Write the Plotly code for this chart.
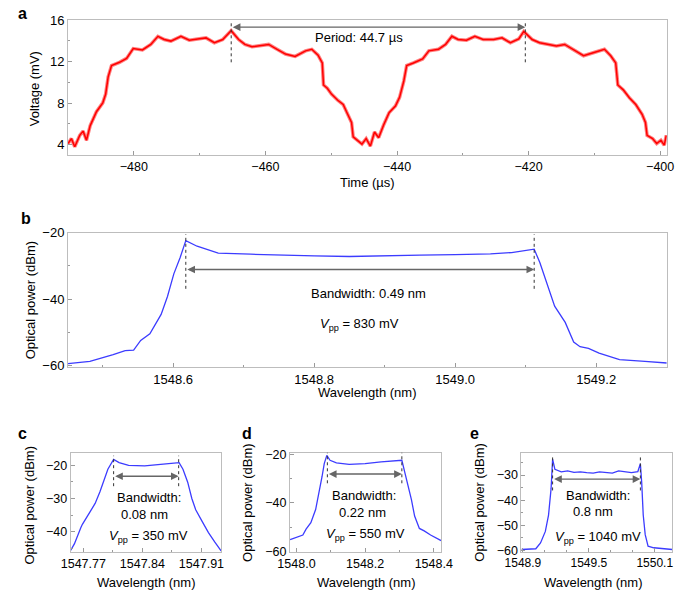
import plotly.graph_objects as go

# ---------------- data ----------------
# Panel a: voltage trace
time_a = [-490.00, -489.49, -488.98, -488.22, -487.71, -487.20, -486.63, -485.68, -484.72, -484.28,
          -483.90, -483.39, -482.18, -481.10, -480.09, -478.69, -477.42, -476.34, -475.38, -474.37,
          -472.84, -471.57, -470.30, -469.03, -467.76, -466.49, -465.79, -465.21, -464.07, -463.12,
          -462.04, -460.77, -459.50, -458.23, -456.95, -455.49, -453.90, -452.95, -452.00, -451.36,
          -451.17, -450.60, -449.96, -449.01, -448.18, -447.55, -446.91, -446.66, -445.96, -445.33,
          -444.69, -444.05, -443.42, -442.79, -442.02, -441.20, -440.24, -439.61, -438.97, -438.53,
          -437.51, -436.11, -435.16, -433.70, -432.62, -431.66, -430.71, -429.44, -428.17, -426.90,
          -425.31, -424.04, -422.77, -421.49, -420.73, -419.46, -418.32, -417.05, -415.78, -414.51,
          -413.24, -411.65, -410.06, -408.47, -407.52, -406.76, -406.44, -405.61, -404.66, -403.71,
          -402.75, -402.24, -401.99, -401.16, -400.53, -399.89, -399.38, -399.07]
volt_a = [4.12, 4.59, 3.81, 4.90, 5.31, 4.43, 5.84, 7.18, 8.03, 8.87,
          10.53, 11.62, 11.93, 12.31, 13.25, 13.12, 13.65, 14.43, 14.12, 13.97,
          14.43, 14.06, 14.18, 14.28, 13.81, 14.12, 14.59, 14.97, 14.12, 13.65,
          13.43, 13.56, 13.65, 13.18, 12.72, 12.50, 13.03, 13.18, 12.62, 11.87,
          9.75, 9.43, 8.87, 8.28, 7.87, 7.00, 6.15, 4.75, 4.43, 4.06,
          4.59, 3.87, 5.22, 4.68, 5.93, 7.09, 7.72, 8.56, 10.12, 11.62,
          11.87, 12.25, 13.03, 13.18, 13.65, 14.43, 14.12, 14.06, 14.43, 14.12,
          14.12, 14.28, 13.81, 14.18, 14.90, 14.12, 13.81, 13.65, 13.50, 13.65,
          13.18, 12.56, 12.87, 13.18, 12.56, 11.87, 9.75, 9.28, 8.50, 7.87,
          6.93, 6.15, 4.90, 4.59, 4.12, 4.43, 3.96, 4.90]

# Panel b: spectrum, Vpp = 830 mV
wl_b = [1548.451, 1548.482, 1548.515, 1548.532, 1548.544, 1548.554, 1548.567, 1548.583, 1548.592,
        1548.601, 1548.610, 1548.618, 1548.634, 1548.664, 1548.710, 1548.750, 1548.800, 1548.850,
        1548.900, 1548.950, 1549.000, 1549.050, 1549.080, 1549.112, 1549.120, 1549.132, 1549.141,
        1549.156, 1549.168, 1549.177, 1549.189, 1549.204, 1549.233, 1549.269, 1549.300]
pw_b = [-59.4, -58.7, -56.7, -55.5, -55.3, -52.4, -50.4, -44.6, -39.2,
        -32.4, -27.5, -22.4, -24.1, -26.2, -26.5, -26.8, -27.0, -27.2,
        -26.9, -26.8, -26.6, -26.4, -26.0, -25.0, -29.0, -36.3, -42.1,
        -47.0, -52.9, -54.3, -54.8, -56.2, -58.2, -58.7, -59.2]

# Panel c: Vpp = 350 mV
wl_c = [1547.7549, 1547.7594, 1547.7670, 1547.7689, 1547.7783, 1547.7840, 1547.7897, 1547.7935,
        1547.7991, 1547.8059, 1547.8124, 1547.8237, 1547.8427, 1547.8616, 1547.8805, 1547.8835,
        1547.8881, 1547.8937, 1547.8986, 1547.9032, 1547.9108, 1547.9183, 1547.9259, 1547.9335]
pw_c = [-45.7, -43.7, -38.8, -37.8, -33.9, -31.5, -28.0, -25.1,
        -21.2, -18.2, -19.2, -20.0, -20.2, -19.7, -19.2, -19.2,
        -21.2, -25.1, -30.0, -33.4, -36.9, -40.3, -43.2, -45.9]

# Panel d: Vpp = 550 mV
wl_d = [1547.9814, 1548.0047, 1548.0186, 1548.0279, 1548.0419, 1548.0558, 1548.0651, 1548.0744,
        1548.0809, 1548.0884, 1548.0977, 1548.1163, 1548.1535, 1548.2000, 1548.2465, 1548.3023,
        1548.3070, 1548.3163, 1548.3256, 1548.3349, 1548.3442, 1548.3581, 1548.3721, 1548.3907,
        1548.4214]
pw_d = [-55.1, -53.8, -53.2, -50.8, -48.1, -42.7, -36.6, -29.2,
        -23.8, -20.4, -22.4, -23.5, -24.1, -23.8, -23.1, -22.2,
        -22.4, -27.8, -33.2, -38.6, -45.4, -50.5, -51.5, -53.2,
        -55.5]

# Panel e: Vpp = 1040 mV
wl_e = [1548.886, 1549.017, 1549.060, 1549.104, 1549.133, 1549.156, 1549.170, 1549.191, 1549.249,
        1549.307, 1549.365, 1549.423, 1549.481, 1549.539, 1549.597, 1549.656, 1549.714, 1549.771,
        1549.830, 1549.888, 1549.946, 1549.969, 1549.981, 1549.995, 1550.013, 1550.039, 1550.091,
        1550.259]
pw_e = [-59.6, -59.3, -57.0, -52.4, -45.9, -35.5, -23.7, -27.7, -28.7,
        -28.3, -28.9, -28.7, -29.0, -29.2, -28.7, -29.0, -29.2, -28.3,
        -28.6, -29.0, -28.6, -25.5, -32.9, -45.9, -53.7, -58.3, -58.9,
        -59.6]

# Bandwidth / period markers (edges) per panel
period_edges = [-465.2, -420.5]
edges_b = [1548.618, 1549.112]
edges_c = [1547.8059, 1547.8830]
edges_d = [1548.090, 1548.307]
edges_e = [1549.170, 1549.969]

FONT = "Liberation Sans, Arial, Helvetica, sans-serif"
RED = "#ff0000"
BLUE = "rgb(60,60,255)"
ARROW = "#666666"

fig = go.Figure()

# Panel a (noisy band + core)
fig.add_trace(go.Scatter(x=time_a, y=volt_a, mode="lines", xaxis="x", yaxis="y",
                         line=dict(color="rgba(255,0,0,0.5)", width=3.5), hoverinfo="skip"))
fig.add_trace(go.Scatter(x=time_a, y=volt_a, mode="lines", xaxis="x", yaxis="y",
                         line=dict(color=RED, width=1.5)))
fig.add_trace(go.Scatter(x=wl_b, y=pw_b, mode="lines", xaxis="x2", yaxis="y2",
                         line=dict(color=BLUE, width=1.3)))
fig.add_trace(go.Scatter(x=wl_c, y=pw_c, mode="lines", xaxis="x3", yaxis="y3",
                         line=dict(color=BLUE, width=1.3)))
fig.add_trace(go.Scatter(x=wl_d, y=pw_d, mode="lines", xaxis="x4", yaxis="y4",
                         line=dict(color=BLUE, width=1.3)))
fig.add_trace(go.Scatter(x=wl_e, y=pw_e, mode="lines", xaxis="x5", yaxis="y5",
                         line=dict(color=BLUE, width=1.3)))


def axis(domain, rng, anchor, tickvals, minor_vals, fmt=None, fs=13):
    d = dict(domain=domain, range=rng, anchor=anchor, showline=True, mirror=True,
             linecolor="#bdbdbd", linewidth=1, ticks="inside", ticklen=4, tickcolor="#9a9a9a",
             showgrid=False, zeroline=False, tickvals=tickvals,
             tickfont=dict(size=fs, color="black", family=FONT),
             minor=dict(ticks="inside", ticklen=2, tickcolor="#9a9a9a", tickvals=minor_vals,
                        showgrid=False))
    if fmt:
        d["tickformat"] = fmt
    return d


bx = [0.0660, 0.2355]
fig.update_layout(
    width=685, height=597, margin=dict(l=0, r=0, t=0, b=0),
    paper_bgcolor="white", plot_bgcolor="white", showlegend=False,
    font=dict(family=FONT, size=13, color="black"),
    xaxis=axis([0.0778, 0.9905], [-490, -399], "y", [-480, -460, -440, -420, -400],
               [-490, -470, -450, -430, -410], fs=12.5),
    yaxis=axis([0.7459, 0.9777], [3.0, 16], "x", [4, 8, 12, 16], [6, 10, 14]),
    xaxis2=axis([0.0778, 0.9905], [1548.451, 1549.300], "y2",
                [1548.6, 1548.8, 1549.0, 1549.2], [1548.5, 1548.7, 1548.9, 1549.1], ".1f"),
    yaxis2=axis([0.3819, 0.6131], [-60.5, -20], "x2", [-60, -40, -20], [-50, -30]),
    xaxis3=axis([0.0818, 0.3114], [1547.755, 1547.9335], "y3",
                [1547.77, 1547.84, 1547.91], [1547.805, 1547.875], ".2f", fs=12.5),
    yaxis3=axis(bx, [-46.0, -16.2], "x3", [-40, -30, -20], [-45, -35, -25], fs=12.5),
    xaxis4=axis([0.4161, 0.6463], [1547.981, 1548.421], "y4",
                [1548.0, 1548.2, 1548.4], [1548.1, 1548.3], ".1f", fs=12.5),
    yaxis4=axis(bx, [-60, -19.3], "x4", [-60, -40, -20], [-50, -30], fs=12.5),
    xaxis5=axis([0.7689, 0.9990], [1548.886, 1550.260], "y5",
                [1548.9, 1549.5, 1550.1], [1549.1, 1549.3, 1549.7, 1549.9], ".1f", fs=12),
    yaxis5=axis(bx, [-60.4, -21.1], "x5", [-60, -50, -40, -30], [-55, -45, -35, -25], fs=12.5),
)

shapes = []
annos = []


def bracket(xr, yr, edges, y0, y1, ya):
    for e in edges:
        shapes.append(dict(type="line", xref=xr, yref=yr, x0=e, x1=e, y0=y0, y1=y1,
                           line=dict(color="#333333", width=1, dash="dot")))
    annos.append(dict(xref=xr, yref=yr, axref=xr, ayref=yr, x=edges[1], y=ya,
                      ax=edges[0], ay=ya, text="", showarrow=True, arrowhead=2,
                      startarrowhead=2, arrowside="end+start", arrowsize=1.1,
                      arrowwidth=1.4, arrowcolor=ARROW, standoff=0, startstandoff=0))


def txt(xr, yr, x, y, s, size=13):
    annos.append(dict(xref=xr, yref=yr, x=x, y=y, text=s, showarrow=False,
                      font=dict(size=size, color="black", family=FONT)))


bracket("x", "y", period_edges, 11.93, 15.84, 15.31)
txt("x", "y", -445.8, 14.28, "Period: 44.7 µs")

bracket("x2", "y2", edges_b, -36.9, -20.5, -31.1)
txt("x2", "y2", 1548.877, -38.4, "Bandwidth: 0.49 nm")
txt("x2", "y2", 1548.865, -47.5, "<i>V</i><sub>pp</sub> = 830 mV")

bracket("x3", "y3", edges_c, -26.3, -17.1, -23.3)
txt("x3", "y3", 1547.848, -29.8, "Bandwidth:")
txt("x3", "y3", 1547.843, -34.7, "0.08 nm")
txt("x3", "y3", 1547.847, -41.6, "<i>V</i><sub>pp</sub> = 350 mV")

bracket("x4", "y4", edges_d, -31.9, -18.6, -28.1)
txt("x4", "y4", 1548.198, -37.0, "Bandwidth:")
txt("x4", "y4", 1548.191, -43.8, "0.22 nm")
txt("x4", "y4", 1548.200, -52.8, "<i>V</i><sub>pp</sub> = 550 mV")

bracket("x5", "y5", edges_e, -36.1, -22.2, -31.6)
txt("x5", "y5", 1549.583, -38.1, "Bandwidth:")
txt("x5", "y5", 1549.539, -44.6, "0.8 nm")
txt("x5", "y5", 1549.583, -55.0, "<i>V</i><sub>pp</sub> = 1040 mV")


def ptxt(xpx, ypx, s, size=13, angle=0, bold=False):
    annos.append(dict(xref="paper", yref="paper", x=xpx / 685, y=1 - ypx / 597,
                      text=f"<b>{s}</b>" if bold else s, showarrow=False, textangle=angle,
                      xanchor="center", yanchor="middle",
                      font=dict(size=size, color="black", family=FONT)))


# axis titles
ptxt(18, 84, "Voltage (mV)", angle=-90)
ptxt(366, 180, "Time (µs)")
ptxt(15, 300, "Optical power (dBm)", angle=-90)
ptxt(366, 395, "Wavelength (nm)")
ptxt(13, 510, "Optical power (dBm)", angle=-90)
ptxt(135, 589, "Wavelength (nm)")
ptxt(240, 508, "Optical power (dBm)", angle=-90)
ptxt(365, 589, "Wavelength (nm)")
ptxt(482, 508, "Optical power (dBm)", angle=-90)
ptxt(602, 589, "Wavelength (nm)")

# panel letters
ptxt(6, 7, "a", size=16, bold=True)
ptxt(9, 217, "b", size=16, bold=True)
ptxt(6, 437, "c", size=16, bold=True)
ptxt(240, 437, "d", size=16, bold=True)
ptxt(478, 437, "e", size=16, bold=True)

fig.update_layout(shapes=shapes, annotations=annos)
fig.write_html("out.html", config={"displayModeBar": False},
               post_script="document.body.style.margin='0';document.body.style.overflow='hidden';")
